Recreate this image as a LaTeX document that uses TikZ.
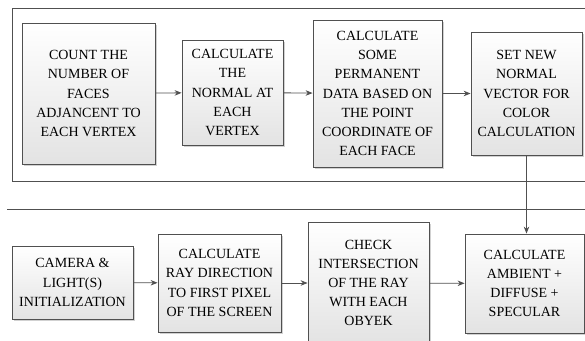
\documentclass[tikz,border=0pt]{standalone}
\usepackage{fontspec}
\setmainfont{Liberation Serif}
\usetikzlibrary{shadows,arrows.meta}
\definecolor{edge}{HTML}{505050}
\tikzset{
  stepbox/.style={draw=edge, line width=0.8pt, align=center, inner sep=0pt,
    top color=white, bottom color=gray!22,
    drop shadow={shadow xshift=2pt, shadow yshift=-2pt, fill=gray!60, opacity=0.6},
    font=\fontsize{14}{19.2}\selectfont},
  flow/.style={draw=edge, line width=0.8pt, -{Stealth[length=7pt,width=5.5pt]}},
  frame/.style={draw=edge, line width=0.8pt}
}
\begin{document}
\begin{tikzpicture}[x=1pt,y=1pt]
\useasboundingbox (0,0) rectangle (585,340);
\clip (0,0) rectangle (585,340);
% section frames
\draw[frame] (600,332) -- (12,332) -- (12,159) -- (600,159);
\draw[frame] (7,131) -- (600,131);
% upper chain
\node[stepbox, minimum width=133pt, minimum height=141pt] (count) at (88.5,246.5)
  {COUNT THE\\NUMBER OF\\FACES\\ADJANCENT TO\\EACH VERTEX};
\node[stepbox, minimum width=101pt, minimum height=105pt] (normal) at (232.5,247.5)
  {CALCULATE\\THE\\NORMAL AT\\EACH\\VERTEX};
\node[stepbox, minimum width=129pt, minimum height=147pt] (perm) at (377.5,246.5)
  {CALCULATE\\SOME\\PERMANENT\\DATA BASED ON\\THE POINT\\COORDINATE OF\\EACH FACE};
\node[stepbox, minimum width=111pt, minimum height=123pt] (setn) at (526.5,246.5)
  {SET NEW\\NORMAL\\VECTOR FOR\\COLOR\\CALCULATION};
% lower chain
\node[stepbox, minimum width=121pt, minimum height=73pt] (cam) at (72.5,57.5)
  {CAMERA \&\\LIGHT(S)\\INITIALIZATION};
\node[stepbox, minimum width=123pt, minimum height=98pt] (ray) at (219.5,57)
  {CALCULATE\\RAY DIRECTION\\TO FIRST PIXEL\\OF THE SCREEN};
\node[stepbox, minimum width=121pt, minimum height=122pt] (hit) at (368.5,57)
  {CHECK\\INTERSECTION\\OF THE RAY\\WITH EACH\\OBYEK};
\node[stepbox, minimum width=119pt, minimum height=99pt] (shade) at (524.5,56.5)
  {CALCULATE\\AMBIENT +\\DIFFUSE +\\SPECULAR};
% connectors
\draw[flow] (count) -- (normal);
\draw[flow] (normal) -- (perm);
\draw[flow] (perm) -- (setn);
\draw[flow] (cam) -- (ray);
\draw[flow] (ray) -- (hit);
\draw[flow] (hit) -- (shade);
\draw[flow] (setn.south) -- (setn.south |- shade.north);
\end{tikzpicture}
\end{document}
